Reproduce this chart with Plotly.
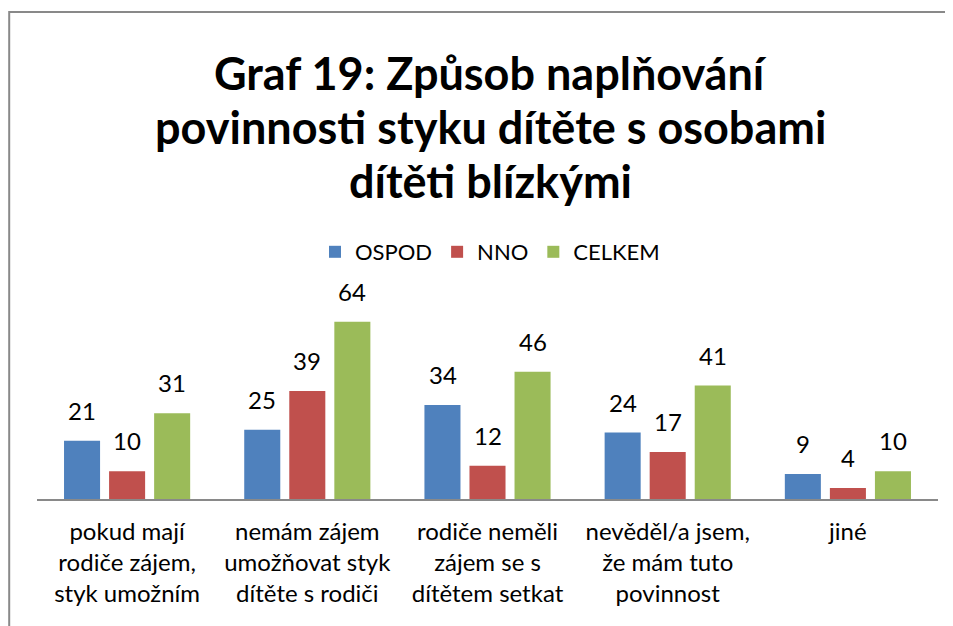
import plotly.graph_objects as go

# data
categories = [
    'pokud mají<br>rodiče zájem,<br>styk umožním',
    'nemám zájem<br>umožňovat styk<br>dítěte s rodiči',
    'rodiče neměli<br>zájem se s<br>dítětem setkat',
    'nevěděl/a jsem,<br>že mám tuto<br>povinnost',
    'jiné',
]
ospod = [21, 25, 34, 24, 9]
nno = [10, 39, 12, 17, 4]
celkem = [31, 64, 46, 41, 10]
title_lines = ['Graf 19: Způsob naplňování', 'povinnosti styku dítěte s osobami', 'dítěti blízkými']

series = [('OSPOD', ospod, '#4F81BD'), ('NNO', nno, '#C0504D'), ('CELKEM', celkem, '#9BBB59')]
font_family = 'Lato, Calibri, Carlito, sans-serif'

# page body has an 8px margin, so the figure is drawn 8px in from the corner
OFF = 8
W, H = 937, 618
L, R, T, B = 29, 7, 282, 127


def py(p):
    # screenshot pixel row -> paper y
    return (H - B - (p - OFF)) / (H - T - B)


def px(p):
    return (p - OFF - L) / (W - L - R)


fig = go.Figure()
for k, (name, vals, col) in enumerate(series):
    fig.add_trace(go.Bar(
        x=categories, y=vals, name=name,
        marker=dict(color=col, line=dict(width=0)),
    ))
    # value labels
    for c, v in zip(categories, vals):
        fig.add_annotation(x=c, y=v, text=str(v), showarrow=False,
                           xshift=(k - 1) * 45, yshift=14, yanchor='bottom',
                           font=dict(size=24, color='black'))

for i, line in enumerate(title_lines):
    fig.add_annotation(xref='paper', yref='paper', x=px(490), y=py(73 + i * 54),
                       text='<b>' + line + '</b>', showarrow=False,
                       xanchor='center', yanchor='middle',
                       font=dict(size=45, color='black'))

fig.update_layout(
    width=W, height=H,
    margin=dict(l=L, r=R, t=T, b=B),
    plot_bgcolor='white', paper_bgcolor='white',
    barmode='group', bargap=0.25, bargroupgap=0.2,
    font=dict(family=font_family, color='black'),
    legend=dict(
        orientation='h', x=px(490), xanchor='center', y=py(252), yanchor='middle',
        font=dict(size=22), itemwidth=30, traceorder='normal',
    ),
    showlegend=True,
)
fig.update_xaxes(
    showline=True, linecolor='#898989', linewidth=2, automargin=False,
    ticks='', tickfont=dict(size=24), ticklabelstandoff=10,
)
fig.update_yaxes(visible=False, range=[0, 75.5], automargin=False)

# chart border: left and top edges only, as one open path
x_left, x_right = px(9.2), px(OFF + W + 5)
y_top, y_bot = py(12), py(OFF + H + 5)
fig.add_shape(type='path', xref='paper', yref='paper',
              path=f'M {x_left},{y_bot} L {x_left},{y_top} L {x_right},{y_top}',
              fillcolor='rgba(0,0,0,0)', line=dict(color='#898989', width=2))

fig.write_html('out.html')
